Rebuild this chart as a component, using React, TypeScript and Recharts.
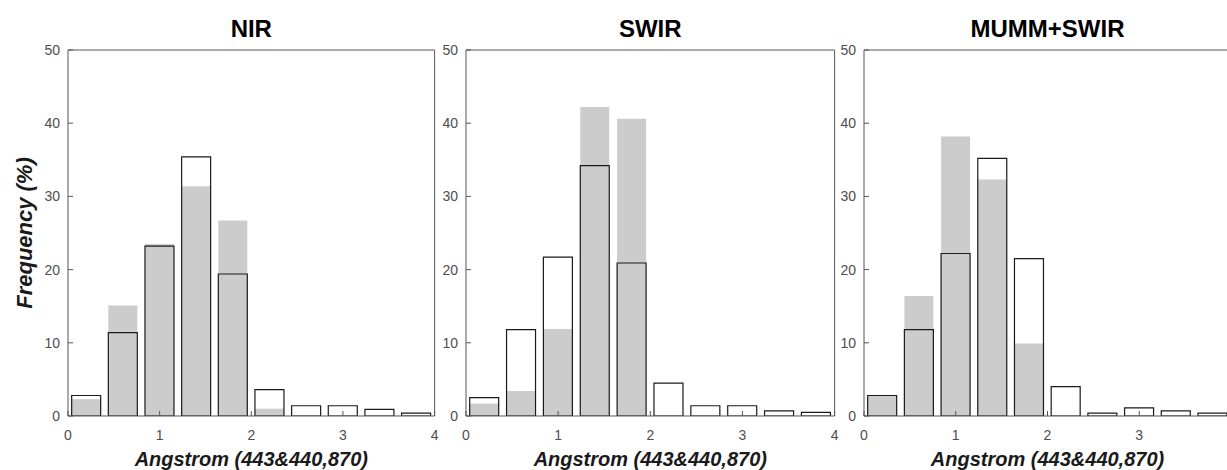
import { ComposedChart, Bar, XAxis, YAxis, Label } from 'recharts';

// Histogram bins (Angstrom exponent), bin width 0.4
const binCenters = [0.2, 0.6, 1.0, 1.4, 1.8, 2.2, 2.6, 3.0, 3.4, 3.8];
const xTicks = [0, 1, 2, 3, 4];
const yTicks = [0, 10, 20, 30, 40, 50];

// gray filled bars / black outlined bars, frequency in %
const nirGray = [2.3, 15.1, 23.5, 31.4, 26.7, 1.0, 0, 0, 0, 0];
const nirOutline = [2.8, 11.4, 23.2, 35.4, 19.4, 3.6, 1.4, 1.4, 0.9, 0.4];
const swirGray = [1.7, 3.4, 11.9, 42.2, 40.6, 0, 0, 0, 0, 0];
const swirOutline = [2.5, 11.8, 21.7, 34.2, 20.9, 4.5, 1.4, 1.4, 0.7, 0.5];
const mummGray = [2.8, 16.4, 38.2, 32.3, 9.9, 0, 0, 0, 0, 0];
const mummOutline = [2.8, 11.8, 22.2, 35.2, 21.5, 4.0, 0.4, 1.1, 0.7, 0.4];

const FONT = '"Liberation Sans", Arial, Helvetica, sans-serif';
const AXIS = '#555555';
const TICK_TEXT = '#4d4d4d';

interface PanelProps {
  title: string;
  gray: number[];
  outline: number[];
  plotLeft: number;
  plotWidth: number;
  yLabel?: boolean;
}

function Panel({ title, gray, outline, plotLeft, plotWidth, yLabel }: PanelProps) {
  const rows = binCenters.map((x, i) => ({
    bin: String(i),
    x,
    gray: gray[i],
    outline: outline[i],
  }));
  const width = 60 + plotWidth + 1 + 10;

  return (
    <div style={{ position: 'absolute', left: plotLeft - 60, top: 0 }}>
      <ComposedChart
        width={width}
        height={470}
        data={rows}
        margin={{ top: 49, right: 10, bottom: 2, left: 30 }}
        barCategoryGap="10%"
      >
        <XAxis
          xAxisId="num"
          dataKey="x"
          type="number"
          domain={[0, 4]}
          allowDataOverflow
          ticks={xTicks}
          interval={0}
          height={52}
          tickSize={-5}
          tickMargin={19}
          stroke={AXIS}
          tick={{ fill: TICK_TEXT, fontSize: 14, fontFamily: FONT }}
        >
          <Label
            value="Angstrom (443&440,870)"
            position="insideBottom"
            offset={2}
            style={{ fontSize: 20, fontWeight: 'bold', fontStyle: 'italic', fill: '#1a1a1a', fontFamily: FONT }}
          />
        </XAxis>
        <XAxis
          xAxisId="top"
          orientation="top"
          type="number"
          domain={[0, 4]}
          allowDataOverflow
          ticks={[1, 2, 3]}
          height={1}
          tick={false}
          tickSize={-5}
          stroke={AXIS}
        >
          <Label
            value={title}
            position="top"
            offset={12}
            style={{ fontSize: 24, fontWeight: 'bold', fill: '#000', fontFamily: FONT }}
          />
        </XAxis>
        {/* hidden category axes so both series overlap in the same slot */}
        <XAxis xAxisId="g" dataKey="bin" type="category" hide height={0} />
        <XAxis xAxisId="o" dataKey="bin" type="category" hide height={0} />
        <YAxis
          yAxisId="left"
          type="number"
          domain={[0, 50]}
          allowDataOverflow
          ticks={yTicks}
          interval={0}
          width={30}
          tickSize={-5}
          tickMargin={13}
          stroke={AXIS}
          tick={{ fill: TICK_TEXT, fontSize: 14, fontFamily: FONT }}
        >
          {yLabel && (
            <Label
              value="Frequency (%)"
              position="center"
              angle={-90}
              dx={-29}
              style={{ fontSize: 22, fontWeight: 'bold', fontStyle: 'italic', fill: '#1a1a1a', fontFamily: FONT, textAnchor: 'middle' }}
            />
          )}
        </YAxis>
        <YAxis
          yAxisId="right"
          orientation="right"
          type="number"
          domain={[0, 50]}
          allowDataOverflow
          ticks={[10, 20, 30, 40]}
          width={1}
          tick={false}
          tickSize={-5}
          stroke={AXIS}
        />
        <Bar
          xAxisId="g"
          yAxisId="left"
          dataKey="gray"
          fill="#cccccc"
          isAnimationActive={false}
        />
        <Bar
          xAxisId="o"
          yAxisId="left"
          dataKey="outline"
          fill="none"
          stroke="#1a1a1a"
          strokeWidth={1.2}
          isAnimationActive={false}
        />
      </ComposedChart>
    </div>
  );
}

export default function App() {
  return (
    <div
      style={{
        position: 'absolute',
        left: 0,
        top: 0,
        width: 1227,
        height: 470,
        overflow: 'hidden',
        background: '#fff',
        fontFamily: FONT,
      }}
    >
      <Panel title="NIR" gray={nirGray} outline={nirOutline} plotLeft={67.7} plotWidth={366.6} yLabel />
      <Panel title="SWIR" gray={swirGray} outline={swirOutline} plotLeft={465.7} plotWidth={368.6} />
      <Panel title="MUMM+SWIR" gray={mummGray} outline={mummOutline} plotLeft={864.3} plotWidth={367} />
    </div>
  );
}
